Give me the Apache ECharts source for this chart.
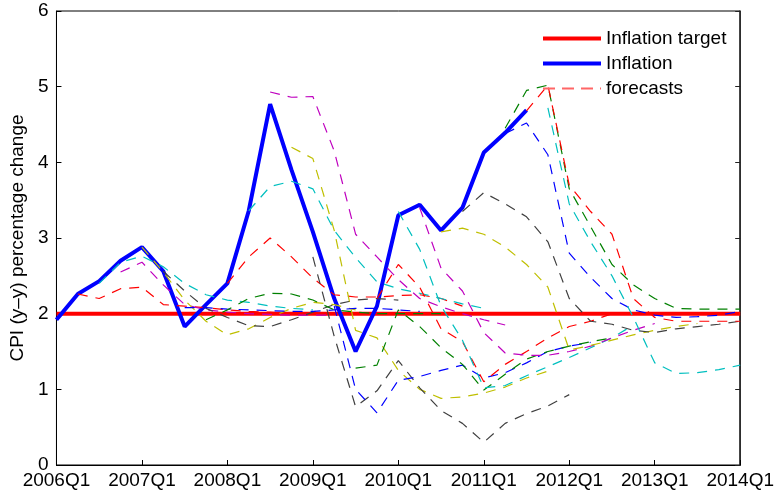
<!DOCTYPE html>
<html>
<head>
<meta charset="utf-8">
<script src="https://cdn.jsdelivr.net/npm/echarts@6/dist/echarts.min.js"></script>
<style>
  html, body { margin: 0; padding: 0; background: #fff; }
  #chart { width: 777px; height: 492px; }
</style>
</head>
<body>
<div id="chart"></div>
<script>
// quarters on the x axis
var quarters = [
  '2006Q1','2006Q2','2006Q3','2006Q4','2007Q1','2007Q2','2007Q3','2007Q4',
  '2008Q1','2008Q2','2008Q3','2008Q4','2009Q1','2009Q2','2009Q3','2009Q4',
  '2010Q1','2010Q2','2010Q3','2010Q4','2011Q1','2011Q2','2011Q3','2011Q4',
  '2012Q1','2012Q2','2012Q3','2012Q4','2013Q1','2013Q2','2013Q3','2013Q4',
  '2014Q1'
];

var targetValue = 2;

// observed inflation, 2006Q1 .. 2011Q3
var inflation = [1.92, 2.26, 2.43, 2.70, 2.88, 2.56, 1.83, 2.12, 2.40, 3.36, 4.77, 3.90,
  3.08, 2.20, 1.50, 2.10, 3.30, 3.44, 3.10, 3.40, 4.13, 4.39, 4.69];

// forecasts: index of first quarter, then the values
var forecastStart = [1, 2, 3, 4, 5, 6, 7, 8, 9, 10, 11, 12, 13, 14, 15, 16, 17, 18, 19, 21, 21, 22, 23];
var forecastValues = [
  [2.26, 2.20, 2.33, 2.35, 2.12, 2.10, 2.08, 2.05, 2.03, 2.02, 2.00],
  [2.40, 2.68, 2.76, 2.62, 2.40, 2.25, 2.18, 2.15, 2.10, 2.07, 2.05],
  [2.55, 2.68, 2.38, 2.12, 2.05, 2.02, 2.00, 1.99, 1.98, 1.98, 1.98],
  [2.88, 2.55, 2.18, 1.90, 1.72, 1.80, 1.95, 2.07, 2.15, 2.12, 2.05],
  [2.56, 2.30, 2.07, 1.95, 1.84, 1.83, 1.92, 2.02, 2.12, 2.18, 2.20, 2.18],
  [2.08, 2.08, 2.06, 2.05, 2.04, 2.03, 2.03, 2.05, 2.07, 2.07, 2.05, 2.03],
  [1.92, 2.05, 2.20, 2.27, 2.26, 2.18, 2.05, 2.02, 2.00, 2.00, 2.00, 2.00],
  [2.40, 2.75, 3.00, 2.75, 2.47, 2.25, 2.22, 2.22, 2.24, 2.25, 2.20, 2.10],
  [3.36, 3.68, 3.75, 3.65, 3.10, 2.74, 2.42, 2.33, 2.27, 2.20, 2.13, 2.07],
  [4.93, 4.86, 4.87, 4.15, 3.05, 2.75, 2.45, 2.20, 2.09, 2.00, 1.92, 1.85],
  [4.20, 4.05, 3.10, 1.78, 1.68, 1.25, 1.00, 0.88, 0.90, 0.95, 1.03, 1.15, 1.24],
  [2.75, 1.70, 0.77, 0.98, 1.38, 1.02, 0.72, 0.55, 0.30, 0.55, 0.68, 0.78, 0.93],
  [2.10, 1.00, 0.69, 1.12, 1.17, 1.25, 1.32, 1.15, 1.22, 1.35, 1.50, 1.57, 1.62],
  [1.28, 1.32, 2.05, 1.83, 1.55, 1.33, 0.99, 1.20, 1.40, 1.50, 1.57, 1.63, 1.68],
  [2.20, 2.65, 2.35, 1.80, 1.63, 1.10, 1.33, 1.50, 1.68, 1.83, 1.90, 2.00],
  [3.35, 2.85, 2.10, 1.65, 1.02, 1.05, 1.18, 1.30, 1.42, 1.55, 1.68, 1.85],
  [3.40, 2.60, 2.30, 1.75, 1.48, 1.45, 1.45, 1.50, 1.57, 1.68, 1.78, 1.87],
  [3.08, 3.13, 3.05, 2.88, 2.65, 2.35, 1.52, 1.58, 1.65, 1.72, 1.78, 1.83, 1.87],
  [3.35, 3.60, 3.45, 3.28, 2.95, 2.20, 1.90, 1.86, 1.78, 1.75, 1.80, 1.83, 1.86, 1.90],
  [4.38, 4.52, 4.10, 2.80, 2.48, 2.20, 2.05, 1.98, 1.95, 1.96, 1.98, 2.03],
  [4.45, 4.95, 5.02, 3.65, 3.15, 2.65, 2.38, 2.20, 2.07, 2.06, 2.06, 2.06],
  [4.68, 5.02, 3.70, 3.35, 3.05, 2.20, 1.95, 1.90, 1.90, 1.90, 1.90],
  [4.72, 3.45, 2.95, 2.50, 1.95, 1.35, 1.21, 1.22, 1.26, 1.32]
];

// matlab colour order, starting from red
var colorOrder = ['#ff0000', '#00bfbf', '#bf00bf', '#bfbf00', '#404040', '#0000ff', '#008000'];

var font = "'Liberation Sans', Arial, Helvetica, sans-serif";
var myChart = echarts.init(document.getElementById('chart'));

var series = [];
series.push({
    name: 'Inflation target',
    type: 'line',
    data: quarters.map(function(){ return targetValue; }),
    symbol: 'none',
    lineStyle: { color: '#ff0000', width: 4 },
    itemStyle: { color: '#ff0000' },
    silent: true
});
series.push({
    name: 'Inflation',
    type: 'line',
    data: inflation,
    symbol: 'none',
    lineStyle: { color: '#0000ff', width: 4 },
    itemStyle: { color: '#0000ff' },
    silent: true
});
for (var i = 0; i < forecastValues.length; i++) {
    var data = [];
    for (var j = 0; j < quarters.length; j++) data.push(null);
    for (var k = 0; k < forecastValues[i].length; k++) {
        data[forecastStart[i] + k] = forecastValues[i][k];
    }
    var c = colorOrder[i % colorOrder.length];
    series.push({
        name: 'forecasts',
        type: 'line',
        data: data,
        symbol: 'none',
        connectNulls: false,
        lineStyle: { color: c, width: 1.2, type: [10, 8] },
        itemStyle: { color: c },
        silent: true
    });
}

var option = {
    backgroundColor: '#fff',
    animation: false,
    // box round the plot, like matlab "box on"
    grid: { left: 53, right: 34, top: 11, bottom: 27, show: true, borderColor: '#000', borderWidth: 1, backgroundColor: 'transparent' },
    legend: {
        left: 541,
        top: 29,
        orient: 'vertical',
        padding: 0,
        itemWidth: 58,
        itemHeight: 14,
        itemGap: 6,
        itemStyle: { opacity: 0 },
        lineStyle: { width: 'inherit' },
        textStyle: { color: '#000', fontSize: 19, fontFamily: font, lineHeight: 19 },
        data: [
            'Inflation target',
            'Inflation',
            { name: 'forecasts', lineStyle: { color: '#ff6666', width: 2, type: [12, 7] } }
        ]
    },
    xAxis: [{
        type: 'category',
        data: quarters,
        boundaryGap: false,
        axisLine: { onZero: false, lineStyle: { color: '#000', width: 1 } },
        axisTick: { inside: true, length: 5, interval: 3, lineStyle: { color: '#000' } },
        axisLabel: { interval: 3, color: '#000', fontSize: 19, fontFamily: font, margin: 6 },
        splitLine: { show: false }
    }],
    yAxis: [{
        type: 'value',
        min: 0,
        max: 6,
        interval: 1,
        name: 'CPI (y\u2013y) percentage change',
        nameLocation: 'middle',
        nameGap: 27,
        nameTextStyle: { color: '#000', fontSize: 19, fontFamily: font },
        axisLine: { show: true, onZero: false, lineStyle: { color: '#000', width: 1 } },
        axisTick: { show: true, inside: true, length: 5, lineStyle: { color: '#000' } },
        axisLabel: { color: '#000', fontSize: 19, fontFamily: font, margin: 8 },
        splitLine: { show: false }
    }, {
        type: 'value',
        position: 'right',
        min: 0,
        max: 6,
        interval: 1,
        axisLine: { show: true, onZero: false, lineStyle: { color: '#222', width: 1.5 } },
        axisTick: { show: true, inside: true, length: 5, lineStyle: { color: '#222' } },
        axisLabel: { show: false },
        splitLine: { show: false }
    }],
    series: series
};
myChart.setOption(option);
</script>
</body>
</html>
